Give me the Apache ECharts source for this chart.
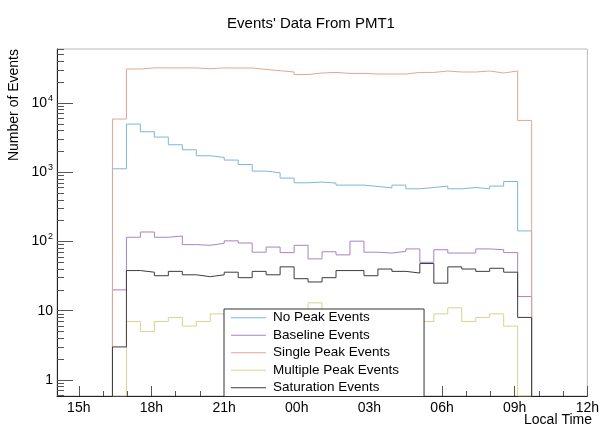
<!DOCTYPE html>
<html>
<head>
<meta charset="utf-8">
<script src="https://cdn.jsdelivr.net/npm/echarts@6/dist/echarts.min.js"></script>
<style>
  html, body { margin: 0; padding: 0; background: #fff; }
  #chart { width: 602px; height: 425px; }
</style>
</head>
<body>
<div id="chart"></div>
<script>
// Time binning of the histograms, in hours counted from midnight of the first day
const binStartHour = 16.39;
const binWidthHour = 0.577;

const seriesNames = ['No Peak Events', 'Baseline Events', 'Single Peak Events', 'Multiple Peak Events', 'Saturation Events'];

// Events per time bin
const noPeakEvents = [1120, 4955, 3837, 3215, 2489, 2108, 1727, 1632, 1496, 1292, 1037, 980, 822, 703, 720, 696, 651, 651, 622, 595, 651, 576, 601, 630, 576, 601, 576, 630, 734, 142];
const baselineEvents = [20, 115, 137, 115, 120, 90, 88, 94, 102, 95, 70, 83, 69, 88, 56, 71, 64, 101, 70, 68, 72, 78, 50, 76, 68, 68, 78, 76, 69, 16];
const singlePeakEvents = [5850, 30900, 32070, 32070, 32070, 32070, 31200, 32070, 31930, 31930, 30490, 29200, 27980, 25700, 27060, 27600, 26680, 26680, 26170, 26170, 26170, 27600, 27600, 28900, 27980, 27980, 28900, 27060, 28900, 5590];
const multiplePeakEvents = [0, 7, 5, 7, 8, 6, 7, 9, 8, 9, 7, 8, 9, 8, 13, 9, 8, 7, 9, 8, 9, 8, 7, 9, 11, 7, 8, 9, 6, 0];
const saturationEvents = [3, 38, 36, 32, 37, 33, 31, 33, 36, 30, 37, 33, 43, 29, 26, 30, 38, 38, 32, 40, 37, 35, 48, 25, 43, 40, 37, 41, 36, 8];

// Axis ticks
const xTickHours = [15, 18, 21, 24, 27, 30, 33, 36];
const xTickLabels = ['15h', '18h', '21h', '00h', '03h', '06h', '09h', '12h'];
const xMinorHours = [15, 16, 17, 18, 19, 20, 21, 22, 23, 24, 25, 26, 27, 28, 29, 30, 31, 32, 33, 34, 35, 36];
const yTickValues = [1, 10, 100, 1000, 10000];
const yTickLabels = ['1', '10', '10{e|2}', '10{e|3}', '10{e|4}'];
const yMinorValues = [0.6, 0.7, 0.8, 0.9,
  2, 3, 4, 5, 6, 7, 8, 9,
  20, 30, 40, 50, 60, 70, 80, 90,
  200, 300, 400, 500, 600, 700, 800, 900,
  2000, 3000, 4000, 5000, 6000, 7000, 8000, 9000,
  20000, 30000, 40000, 50000, 60000];

const xMin = 14.1, xMax = 36;
const yMin = 0.587, yMax = 60100;

const colors = ['#7db5e2', '#a781cb', '#e4a595', '#ddd08f', '#3c3c3c'];
const FONT = '"Liberation Sans", Arial, Helvetica, sans-serif';

// Outline of a histogram drawn as a stepped line, closed down to the axis floor
function histogramOutline(values) {
  const pts = [[binStartHour, yMin]];
  values.forEach((v, i) => {
    pts.push([binStartHour + i * binWidthHour, v > 0 ? v : yMin]);
  });
  const end = binStartHour + values.length * binWidthHour;
  const last = values[values.length - 1];
  pts.push([end, last > 0 ? last : yMin]);
  pts.push([end, yMin]);
  return pts;
}

const allValues = [noPeakEvents, baselineEvents, singlePeakEvents, multiplePeakEvents, saturationEvents];

const series = allValues.map((vals, i) => ({
  name: seriesNames[i],
  type: 'line',
  step: 'end',
  xAxisIndex: 0,
  yAxisIndex: 0,
  data: histogramOutline(vals),
  symbol: 'none',
  showSymbol: false,
  silent: true,
  animation: false,
  lineStyle: { color: colors[i], width: 1 },
  itemStyle: { color: colors[i] },
  z: 2 + i * 0.01
}));

const chart = echarts.init(document.getElementById('chart'), null, { renderer: 'canvas' });

chart.setOption({
  animation: false,
  backgroundColor: '#fff',
  textStyle: { fontFamily: FONT },
  title: {
    text: "Events' Data From PMT1",
    left: 306,
    top: 11,
    textAlign: 'center',
    textStyle: { fontFamily: FONT, fontSize: 15, fontWeight: 'normal', color: '#000' }
  },
  graphic: [
    {
      type: 'text',
      x: 14, y: 49,
      rotation: Math.PI / 2,
      style: {
        text: 'Number of Events',
        font: '14px ' + FONT,
        fill: '#000',
        align: 'right',
        verticalAlign: 'middle'
      }
    },
    {
      type: 'text',
      x: 592, y: 413,
      style: {
        text: 'Local Time',
        font: '14px ' + FONT,
        fill: '#000',
        align: 'right',
        verticalAlign: 'top'
      }
    }
  ],
  legend: {
    orient: 'vertical',
    left: 224,
    top: 309,
    padding: [0, 25, 0, 7],
    itemGap: 0,
    itemWidth: 35,
    itemHeight: 1,
    icon: 'rect',
    selectedMode: false,
    backgroundColor: '#fff',
    borderColor: '#333',
    borderWidth: 1,
    borderRadius: 0,
    textStyle: { fontFamily: FONT, fontSize: 13.5, color: '#000', lineHeight: 17.5, padding: [0, 0, 0, 2] },
    data: seriesNames,
    z: 10
  },
  grid: {
    left: 57, right: 10, top: 49, bottom: 29,
    show: true,
    borderColor: '#bbb',
    borderWidth: 1,
    backgroundColor: 'transparent'
  },
  xAxis: [
    {
      type: 'value',
      position: 'bottom',
      min: xMin, max: xMax,
      axisLine: { show: true, onZero: false, lineStyle: { color: '#222', width: 1 } },
      axisTick: { show: true, inside: true, length: 10, customValues: xTickHours, lineStyle: { color: '#555' } },
      axisLabel: {
        show: true,
        customValues: xTickHours,
        margin: 5,
        fontFamily: FONT,
        fontSize: 14,
        color: '#000',
        formatter: v => xTickLabels[xTickHours.indexOf(Math.round(v))]
      },
      splitLine: { show: false }
    },
    {
      type: 'value',
      position: 'bottom',
      min: xMin, max: xMax,
      axisLine: { show: false, onZero: false },
      axisTick: { show: true, inside: true, length: 5, customValues: xMinorHours, lineStyle: { color: '#555' } },
      axisLabel: { show: false },
      splitLine: { show: false }
    }
  ],
  yAxis: [
    {
      type: 'log',
      logBase: 10,
      position: 'left',
      min: yMin, max: yMax,
      axisLine: { show: true, onZero: false, lineStyle: { color: '#222', width: 1 } },
      axisTick: { show: true, inside: true, length: 16, customValues: yTickValues, lineStyle: { color: '#555' } },
      axisLabel: {
        show: true,
        customValues: yTickValues,
        margin: 4,
        fontFamily: FONT,
        fontSize: 14,
        color: '#000',
        formatter: v => {
          const idx = yTickValues.findIndex(t => Math.abs(t - v) / t < 1e-6);
          return idx >= 0 ? yTickLabels[idx] : '';
        },
        rich: {
          e: { fontSize: 9, fontFamily: FONT, color: '#000', padding: [0, 0, 9, 1] }
        }
      },
      splitLine: { show: false }
    },
    {
      type: 'log',
      logBase: 10,
      position: 'left',
      min: yMin, max: yMax,
      axisLine: { show: false, onZero: false },
      axisTick: { show: true, inside: true, length: 7, customValues: yMinorValues, lineStyle: { color: '#555' } },
      axisLabel: { show: false },
      splitLine: { show: false }
    }
  ],
  series: series
});
</script>
</body>
</html>
